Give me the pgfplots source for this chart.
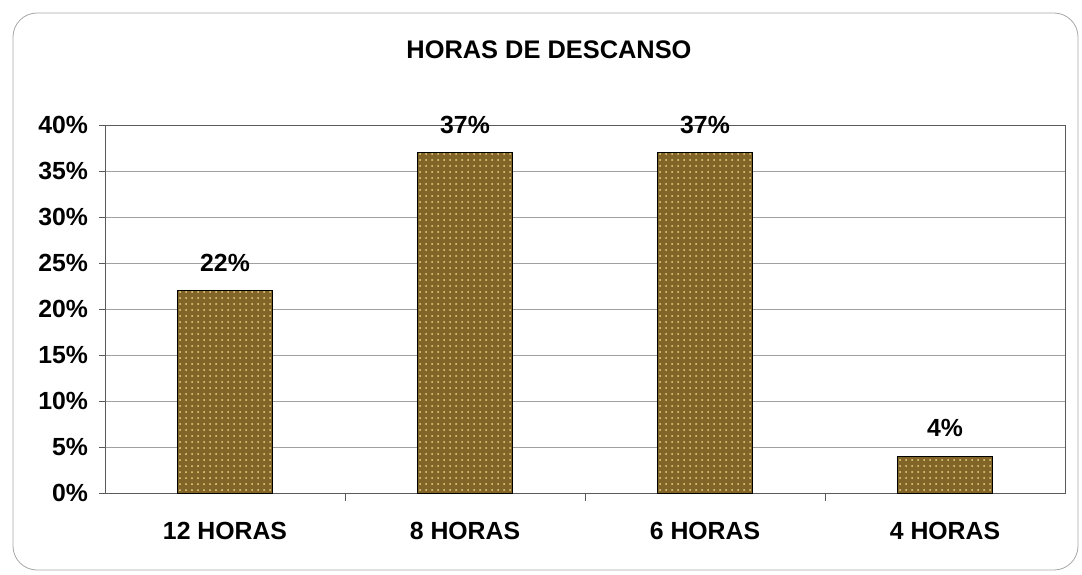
\documentclass[border=0pt]{standalone}
\usepackage{fontspec}
\setmainfont{Liberation Sans}
\usepackage{pgfplots}
\pgfplotsset{compat=1.18}
\usetikzlibrary{patterns}

\definecolor{barbrown}{RGB}{128,100,40}
\definecolor{dotyellow}{RGB}{238,215,130}
\definecolor{gridgray}{RGB}{160,160,160}
\definecolor{axisgray}{RGB}{90,90,90}

\begin{document}
\begin{tikzpicture}
	\useasboundingbox (0pt,0pt) rectangle (541pt,287pt);
	\draw[gray!70, rounded corners=12pt] (6.5pt,2pt) rectangle (539pt,280.5pt);
	\node[font=\bfseries\fontsize{12.7}{14}\selectfont] at (274.5pt,262pt) {HORAS DE DESCANSO};
	\begin{axis}[
	at={(52.5pt,40.5pt)},
	anchor=south west,
	scale only axis,
	width=480pt,
	height=184pt,
	ybar,
	bar width=47.5pt,
	xmin=-0.5, xmax=3.5,
	ymin=0, ymax=40,
	ytick={0,5,...,40},
	yticklabel={\pgfmathprintnumber{\tick}\%},
	xtick={0,1,2,3},
	xticklabels={12 HORAS, 8 HORAS, 6 HORAS, 4 HORAS},
	minor xtick={0.5,1.5,2.5},
	xtick pos=bottom,
	ytick pos=left,
	tick align=outside,
	major tick length=3pt,
	minor tick length=4pt,
	major x tick style={draw=none},
	tick style={axisgray},
	ymajorgrids,
	major grid style={gridgray},
	axis line style={axisgray},
	/pgf/number format/assume math mode=true,
	ticklabel style={font=\bfseries\fontsize{12.4}{14}\selectfont},
	xticklabel style={yshift=-8pt},
	yticklabel style={xshift=-2pt},
	nodes near coords={\pgfmathprintnumber{\pgfplotspointmeta}\%},
	every node near coord/.append style={font=\bfseries\fontsize{12.4}{14}\selectfont, anchor=center, yshift=14pt, black},
	]
	\addplot[draw=black, fill=barbrown, postaction={pattern=dots, pattern color=dotyellow}]
		coordinates {(0,22) (1,37) (2,37) (3,4)};
	\end{axis}
\end{tikzpicture}
\end{document}
